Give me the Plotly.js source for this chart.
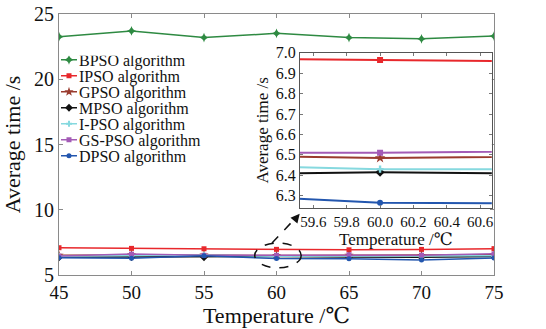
<!DOCTYPE html>
<html>
<head>
<meta charset="utf-8">
<script src="https://cdn.plot.ly/plotly-3.0.1.min.js"></script>
<style>
  html, body { margin: 0; padding: 0; background: #fff; }
  #chart { width: 546px; height: 329px; }
  #chart svg text { font-family: 'Liberation Serif', 'DejaVu Serif', serif !important; }
</style>
</head>
<body>
<div id="chart"></div>
<script>
// Average running time of each algorithm versus temperature
const temperature = [45, 50, 55, 60, 65, 70, 75];

const bpso  = [23.26, 23.70, 23.19, 23.52, 23.19, 23.10, 23.31];
const ipso  = [7.09, 7.04, 7.01, 6.965, 6.93, 6.96, 7.02];
const gpso  = [6.52, 6.55, 6.54, 6.485, 6.52, 6.50, 6.55];
const mpso  = [6.36, 6.38, 6.36, 6.415, 6.38, 6.36, 6.42];
const ipso2 = [6.45, 6.48, 6.53, 6.43, 6.43, 6.42, 6.47];
const gspso = [6.45, 6.60, 6.51, 6.51, 6.55, 6.52, 6.62];
const dpso  = [6.32, 6.28, 6.47, 6.265, 6.25, 6.15, 6.30];

const seriesNames = ['BPSO algorithm', 'IPSO algorithm', 'GPSO algorithm', 'MPSO algorithm',
                     'I-PSO algorithm', 'GS-PSO algorithm', 'DPSO algorithm'];

const mainYTicks = [5, 10, 15, 20, 25];
const mainXTicks = [45, 50, 55, 60, 65, 70, 75];
const insetYTicks = [6.3, 6.4, 6.5, 6.6, 6.7, 6.8, 6.9, 7.0];
const insetXTicks = [59.6, 59.8, 60.0, 60.2, 60.4, 60.6];

const styles = [
  { color: '#2e8a42', symbol: 'star-diamond', size: 7 },
  { color: '#e8282c', symbol: 'square', size: 5 },
  { color: '#9a3b2e', symbol: 'star', size: 7 },
  { color: '#111111', symbol: 'diamond', size: 6 },
  { color: '#86d9df', symbol: 'cross', size: 5 },
  { color: '#a35bb6', symbol: 'square', size: 5 },
  { color: '#2356ae', symbol: 'circle', size: 5 }
];

const values = [bpso, ipso, gpso, mpso, ipso2, gspso, dpso];

const traces = [];
values.forEach((v, i) => {
  traces.push({
    x: temperature, y: v, name: seriesNames[i],
    type: 'scatter', mode: 'lines+markers',
    line: { color: styles[i].color, width: 1.5 },
    marker: { color: styles[i].color, symbol: styles[i].symbol, size: styles[i].size },
    xaxis: 'x', yaxis: 'y'
  });
});
// Zoomed view around 60 ℃ (all series except BPSO)
values.forEach((v, i) => {
  if (i === 0) return;
  traces.push({
    x: temperature, y: v, name: seriesNames[i], showlegend: false,
    type: 'scatter', mode: 'lines+markers',
    line: { color: styles[i].color, width: 2 },
    marker: { color: styles[i].color, symbol: styles[i].symbol, size: styles[i].size + 1 },
    xaxis: 'x2', yaxis: 'y2'
  });
});

const serif = 'Liberation Serif';
const frame = '#8a8a8a';

const layout = {
  width: 546, height: 329,
  margin: { l: 59, r: 52, t: 14, b: 54 },
  paper_bgcolor: '#ffffff', plot_bgcolor: '#ffffff',
  font: { family: serif, color: '#111' },
  showlegend: true,
  legend: {
    x: -0.023, y: 0.84, xanchor: 'left', yanchor: 'top',
    bgcolor: 'rgba(0,0,0,0)', borderwidth: 0,
    font: { family: serif, size: 16, color: '#111' },
    itemwidth: 30, tracegroupgap: 0
  },
  xaxis: {
    domain: [0, 1], range: [45, 75],
    tickvals: mainXTicks, ticktext: mainXTicks.map(String),
    ticks: 'inside', ticklen: 4, tickcolor: frame,
    showline: true, linecolor: frame, linewidth: 1, mirror: 'ticks',
    showgrid: false, zeroline: false,
    tickfont: { family: serif, size: 19, color: '#111' },
    title: { text: 'Temperature /℃', font: { family: serif, size: 22, color: '#111' }, standoff: 1 }
  },
  yaxis: {
    domain: [0, 1], range: [5, 25],
    tickvals: mainYTicks, ticktext: mainYTicks.map(String),
    ticks: 'inside', ticklen: 4, tickcolor: frame,
    showline: true, linecolor: frame, linewidth: 1, mirror: 'ticks',
    showgrid: false, zeroline: false,
    tickfont: { family: serif, size: 20, color: '#111' },
    title: { text: 'Average time /s', font: { family: serif, size: 22, color: '#111' }, standoff: 8 }
  },
  xaxis2: {
    domain: [0.554, 0.995], range: [59.52, 60.67], anchor: 'y2',
    tickvals: insetXTicks, ticktext: insetXTicks.map(t => t.toFixed(1)),
    ticks: 'inside', ticklen: 3, tickcolor: '#777',
    showline: true, linecolor: '#555', linewidth: 1, mirror: 'ticks',
    showgrid: false, zeroline: false,
    tickfont: { family: serif, size: 15, color: '#111' },
    title: { text: 'Temperature /℃', font: { family: serif, size: 17, color: '#111' }, standoff: 0 }
  },
  yaxis2: {
    domain: [0.257, 0.851], range: [6.24, 7.0], anchor: 'x2',
    tickvals: insetYTicks, ticktext: insetYTicks.map(t => t.toFixed(1)),
    ticks: 'inside', ticklen: 3, tickcolor: '#777',
    showline: true, linecolor: '#555', linewidth: 1, mirror: 'ticks',
    showgrid: false, zeroline: false,
    tickfont: { family: serif, size: 16, color: '#111' },
    title: { text: 'Average time /s', font: { family: serif, size: 17, color: '#111' }, standoff: 2 }
  },
  shapes: [
    // dashed ellipse marking the zoomed region
    { type: 'circle', xref: 'x', yref: 'y', x0: 58.5, x1: 61.7, y0: 5.55, y1: 7.45,
      line: { color: '#111', width: 1.5, dash: 'dash' } },
    // dashed leader toward the inset
    { type: 'line', xref: 'x', yref: 'y', x0: 59.69, y0: 7.45, x1: 61.3, y1: 9.35,
      line: { color: '#111', width: 1.5, dash: 'dash' } }
  ],
  annotations: [
    { xref: 'x', yref: 'y', x: 61.6, y: 9.7, ax: -5, ay: 6, axref: 'pixel', ayref: 'pixel',
      text: '', showarrow: true, arrowhead: 2, arrowsize: 1.2, arrowwidth: 1.5, arrowcolor: '#111' }
  ]
};

// Compact legend: tighter rows and short line samples
function compactLegend(gd) {
  const rowGap = 16;
  gd.querySelectorAll('.legend .traces').forEach((g, i) => {
    g.setAttribute('transform', 'translate(0,' + (4 + i * rowGap) + ')');
    g.querySelectorAll('.legendlines path').forEach(p => p.setAttribute('d', 'M12,0h16'));
    const t = g.querySelector('text.legendtext');
    if (t) t.setAttribute('x', 30);
  });
}

Plotly.newPlot('chart', traces, layout, { staticPlot: true, displayModeBar: false })
  .then(gd => compactLegend(gd));
</script>
</body>
</html>
